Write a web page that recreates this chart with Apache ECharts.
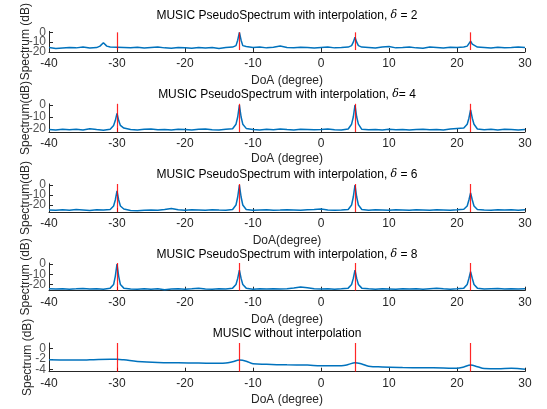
<!DOCTYPE html>
<html><head><meta charset="utf-8">
<script src="https://cdn.jsdelivr.net/npm/echarts@6/dist/echarts.min.js"></script>
<style>html,body{margin:0;padding:0;background:#fff}#c{width:547px;height:409px}</style>
</head><body><div id="c"></div>
<script>
// ---- data ----
const xTicks = [-40, -30, -20, -10, 0, 10, 20, 30];
const targetDoA = [-30, -12, 5, 22];
const peakOffsets = [-0.5, -0.25, 0, 0.25, 0.5];
// floor spectra at integer DoA -40..30 (dB)
const floorS1 = [
 -15.5,-16.5,-16,-15.5,-15.8,-15,-16,-15.5,-10.5,-15,
 -15.2,-15.5,-15.8,-15.2,-16,-15.5,-15,-15.8,-16.2,-15.5,
 -15.8,-16.3,-15.5,-16,-15.5,-16.5,-15.5,-15,0,-14.5,
 -15.5,-15,-15.8,-15.2,-14,-15.5,-15.8,-15.2,-15.5,-16,
 -15.5,-15,-15.8,-15.5,-15,-5,-15,-15.5,-16,-15,
 -14.5,-15.8,-15.5,-15,-15.8,-16.2,-15,-15.5,-16,-15.2,
 -15.5,-15,-9,-15,-15.5,-16,-15.2,-15.8,-15.5,-15,
 -15.5];
const floorS2 = [
 -20.5,-20.8,-20.3,-20.6,-20.2,-20.8,-19.8,-20.5,-21,-20.2,
 -7,-19.2,-20.5,-20.8,-20.3,-20,-20.6,-20.4,-20.8,-20.3,
 -20.5,-20.8,-20.2,-20,-20.6,-20.8,-20.3,-19.8,0,-19.5,
 -20.5,-20.8,-20.3,-20.6,-20,-20.5,-20.8,-20.2,-20.4,-20.7,
 -20.5,-20,-20.6,-20.8,-20,0,-20.3,-20.6,-20.4,-20.8,
 -20.2,-20.6,-20.4,-20.8,-20.5,-20.2,-20.7,-20.4,-20.8,-20,
 -19.5,-19.2,-4,-20,-20.6,-20.3,-20.8,-20.2,-20.5,-20.8,
 -20.4];
const floorS3 = [
 -25,-25.3,-24.8,-25.2,-24.6,-25,-25.4,-24.8,-25,-24.5,
 -6,-24,-25.5,-25.8,-25.2,-25,-25.3,-24.5,-23.5,-24.8,
 -25.2,-24.8,-25,-25.3,-24.7,-25,-25.2,-24.5,0,-24.5,
 -25.3,-25,-24.8,-25.2,-25,-24.7,-25,-25.3,-24.8,-24.6,
 -24,-25,-25.3,-25,-24.5,0,-24.5,-25.2,-24.8,-25,
 -25.3,-24.8,-25,-25.2,-24.7,-25,-25.3,-24.8,-25,-25.2,
 -24.8,-24.3,-8,-24.5,-25,-25.2,-24.8,-25,-24.7,-25.2,
 -24.8];
const floorS4 = [
 -24,-24.3,-24,-24.5,-24.2,-23.8,-24.3,-24,-24.5,-23.5,
 0,-23.5,-24.3,-24.6,-24,-24.5,-24.2,-25,-24.3,-24,
 -24.5,-24.2,-23.5,-24.3,-24.6,-24,-24.4,-23.5,-6,-23.5,
 -24.5,-24,-24.3,-24,-24.4,-24,-23.3,-22.5,-23.2,-24,
 -24.3,-24,-24.5,-24.2,-23.5,-6,-23.5,-24.2,-24.5,-24,
 -24.3,-24.6,-24,-24.4,-24.2,-24.5,-24,-23.5,-24.2,-24.5,
 -24.2,-23.5,-7.5,-23.5,-24.3,-24,-23.8,-24.3,-24,-24.4,
 -24];
// peak shapes at offsets -0.5,-0.25,0,+0.25,+0.5
const peakDoA1 = [-32, -12, 5, 22];
const peakS1 = [[-14,-12,-10.5,-12,-14],[-13.5,-8,0,-8,-13.5],[-13.5,-10,-5,-10,-13.5],[-14,-12,-9,-12,-14]];
const peakS2 = [[-17,-13,-7,-13,-17],[-16,-10,0,-10,-16],[-16,-10,0,-10,-16],[-16,-11,-4,-11,-16]];
const peakS3 = [[-21,-15,-6,-15,-21],[-20,-12,0,-12,-20],[-20,-12,0,-12,-20],[-21,-15,-8,-15,-21]];
const peakS4 = [[-20,-12,0,-12,-20],[-20,-14,-6,-14,-20],[-20,-14,-6,-14,-20],[-20,-14,-7.5,-14,-20]];
// without interpolation
const doa5 = [-40,-37,-34,-31,-30,-29,-27,-24,-21,-18,-15,-14,-13,-12,-11,-10,-8,-5,-2,0,3,4,5,6,7,9,12,15,18,20,21,22,23,24,26,28,30];
const spec5 = [-2.2,-2.25,-2.2,-2.1,-2.1,-2.2,-2.5,-2.7,-2.75,-2.8,-2.85,-2.8,-2.55,-2.25,-2.45,-2.95,-3.05,-3.15,-3.2,-3.3,-3.3,-3.1,-2.75,-3.0,-3.4,-3.55,-3.65,-3.7,-3.75,-3.8,-3.55,-3.2,-3.5,-3.85,-3.9,-3.8,-4.0];

const titles = [
  'MUSIC PseudoSpectrum with interpolation, {d|δ} = 2',
  'MUSIC PseudoSpectrum with interpolation, {d|δ}= 4',
  'MUSIC PseudoSpectrum with interpolation, {d|δ} = 6',
  'MUSIC PseudoSpectrum with interpolation, {d|δ} = 8',
  'MUSIC without interpolation'];
const yNames = ['Spectrum (dB)', 'Spectrum(dB)', 'Spectrum(dB)', 'Spectrum (dB)', 'Spectrum (dB)'];
const xNames = ['DoA (degree)', 'DoA (degree)', 'DoA(degree)', 'DoA (degree)', 'DoA (degree)'];
const yMin = [-20, -22.5, -27, -26, -4.45];
const yMax = [1, 1, 1, 1, 1];
const yTickVals = [[-20,-10,0],[-20,-10,0],[-20,-10,0],[-20,-10,0],[-4,-2,0]];
const redLow = [-18, -22.5, -27, -26, -4.45];
const redHigh = [0, 1, 1, 1, 1];

// ---- layout ----
const gridTop = [23.6, 103.8, 184, 263, 343];
const gridH = [28.4, 28.2, 28, 27.7, 28.7];
const titleY = [9.5, 88.5, 168.5, 248.5, 327.5];
const yNameGap = [17, 17, 17, 17, 15];
const xNameGap = [23, 21, 23, 23, 22];

function build(floor, peakDoA, peaks) {
  const m = new Map();
  floor.forEach((v, i) => m.set(-40 + i, v));
  peakDoA.forEach((p, k) => peakOffsets.forEach((o, j) => m.set(p + o, peaks[k][j])));
  return [...m.entries()].sort((a, b) => a[0] - b[0]);
}
const seriesData = [
  build(floorS1, peakDoA1, peakS1),
  build(floorS2, targetDoA, peakS2),
  build(floorS3, targetDoA, peakS3),
  build(floorS4, targetDoA, peakS4),
  doa5.map((d, i) => [d, spec5[i]])
];

const axisCol = '#262626';
const font = 'Liberation Sans, Arial, Helvetica, sans-serif';
const grid = [], xAxis = [], yAxis = [], series = [], title = [];
for (let i = 0; i < 5; i++) {
  grid.push({left: 49, width: 476, top: gridTop[i], height: gridH[i], containLabel: false});
  title.push({text: titles[i], left: 287, top: titleY[i], textAlign: 'center', padding: 0,
    textStyle: {fontFamily: font, fontSize: 12, fontWeight: 'normal', color: '#000',
      rich: {d: {fontFamily: 'DejaVu Serif, serif', fontStyle: 'italic', fontSize: 11, color: '#000'}}}});
  xAxis.push({type: 'value', gridIndex: i, min: -40, max: 30, interval: 10,
    name: xNames[i], nameLocation: 'middle', nameGap: xNameGap[i], nameMoveOverlap: false,
    nameTextStyle: {fontFamily: font, fontSize: 12, color: axisCol},
    axisLine: {onZero: false, lineStyle: {color: axisCol, width: 1}},
    axisTick: {inside: true, length: 4, lineStyle: {color: axisCol}},
    axisLabel: {fontFamily: font, fontSize: 12, color: axisCol, margin: 6, hideOverlap: false,
      showMinLabel: true, showMaxLabel: true},
    splitLine: {show: false}});
  yAxis.push({type: 'value', gridIndex: i, min: yMin[i], max: yMax[i],
    name: yNames[i], nameLocation: 'middle', nameGap: yNameGap[i], nameRotate: 90, nameMoveOverlap: false,
    nameTextStyle: {fontFamily: font, fontSize: 12, color: axisCol},
    axisLine: {show: true, onZero: false, lineStyle: {color: axisCol, width: 1}},
    axisTick: {show: true, inside: true, length: 4, customValues: yTickVals[i], lineStyle: {color: axisCol}},
    axisLabel: {show: false},
    splitLine: {show: false}});
  series.push({type: 'line', xAxisIndex: i, yAxisIndex: i, data: seriesData[i], showSymbol: false,
    smooth: i === 4 ? 0.4 : false, lineStyle: {color: '#0072BD', width: 1.5}, animation: false, z: 2});
  series.push({type: 'line', xAxisIndex: i, yAxisIndex: i, data: [], animation: false, z: 3,
    markLine: {silent: true, symbol: 'none', animation: false, label: {show: false},
      lineStyle: {color: '#ff0000', width: 1.2, type: 'solid', opacity: 0.85},
      data: targetDoA.map(d => [{coord: [d, redLow[i]]}, {coord: [d, redHigh[i]]}])}});
  // y tick labels, placed at the tick values on the left edge of the axis
  series.push({type: 'scatter', xAxisIndex: i, yAxisIndex: i, clip: false, silent: true, animation: false,
    symbolSize: 0, data: yTickVals[i].map(v => [-40, v]),
    label: {show: true, position: 'left', distance: 3, formatter: p => String(p.value[1]),
      fontFamily: font, fontSize: 12, color: axisCol}});
}
const chart = echarts.init(document.getElementById('c'), null, {renderer: 'canvas'});
chart.setOption({backgroundColor: '#fff', animation: false, title, grid, xAxis, yAxis, series});
</script></body></html>
